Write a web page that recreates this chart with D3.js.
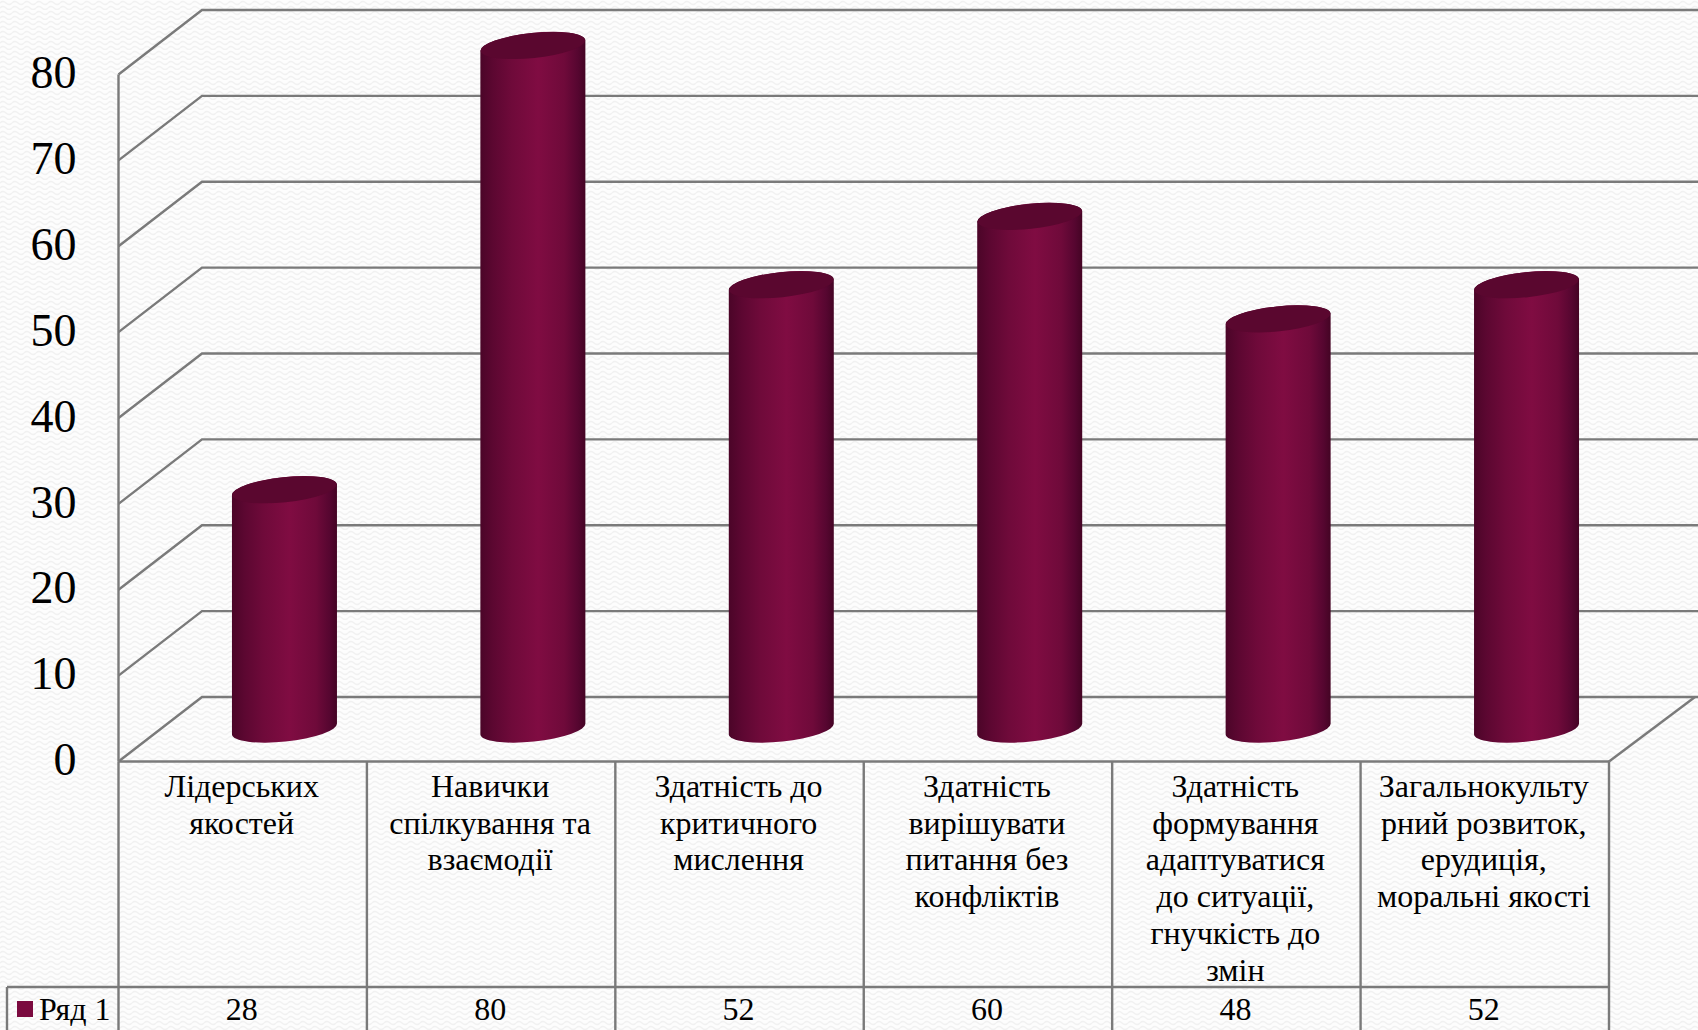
<!DOCTYPE html>
<html lang="uk">
<head>
<meta charset="utf-8">
<script src="https://d3js.org/d3.v7.min.js"></script>
<style>
  html, body { margin: 0; padding: 0; background: #fff; overflow: hidden; }
  text { font-family: "Liberation Serif", serif; fill: #000; }
</style>
</head>
<body>
<div id="graf"></div>
<script>
// Data
const categorias = [
  ["Лідерських", "якостей"],
  ["Навички", "спілкування та", "взаємодії"],
  ["Здатність до", "критичного", "мислення"],
  ["Здатність", "вирішувати", "питання без", "конфліктів"],
  ["Здатність", "формування", "адаптуватися", "до ситуації,", "гнучкість до", "змін"],
  ["Загальнокульту", "рний розвиток,", "ерудиція,", "моральні якості"]
]
const serie = "Ряд 1"
const valores = [28, 80, 52, 60, 48, 52]
const ticksY = [0, 10, 20, 30, 40, 50, 60, 70, 80]

const draw = () => {
  const anchoTotal = 1698
  const altoTotal = 1030

  // Dimensiones
  const izq = 118.5
  const der = 1609
  const base = 761.5
  const tope = 74.5
  const filaSerie = 987
  const leyendaIzq = 7
  const fondoX = 83.5 // profundidad de la pared de atrás
  const fondoY = 64.5
  const gris = "#7a7a7a"

  // Escaladores
  const x = d3.scaleBand().domain(d3.range(categorias.length)).range([izq, der])
  const y = d3.scaleLinear().domain([0, 80]).range([base, tope])
  const yBarra = d3.scaleLinear().domain([0, 80]).range([729, 45.5])

  const svg = d3
    .select("#graf")
    .append("svg")
    .attr("width", anchoTotal)
    .attr("height", altoTotal)
    .style("display", "block")

  const defs = svg.append("defs")

  // Textura del fondo
  const patron = defs
    .append("pattern")
    .attr("id", "textura")
    .attr("width", 12)
    .attr("height", 10)
    .attr("patternUnits", "userSpaceOnUse")
  patron.append("rect").attr("width", 12).attr("height", 10).attr("fill", "#fdfdfd")
  patron
    .append("path")
    .attr("d", "M0 3 Q3 0 6 3 T12 3 M0 8 Q3 5 6 8 T12 8")
    .attr("fill", "none")
    .attr("stroke", "#f1f1f1")
    .attr("stroke-width", 1.3)

  svg
    .append("rect")
    .attr("width", anchoTotal)
    .attr("height", altoTotal)
    .attr("fill", "url(#textura)")

  // Degradado del cilindro
  const degradado = defs.append("linearGradient").attr("id", "cilindro")
  const paradas = [
    [0, "#4b0528"],
    [0.12, "#5c0731"],
    [0.3, "#6f0a3a"],
    [0.55, "#800c42"],
    [0.8, "#6f0a3a"],
    [0.93, "#560630"],
    [1, "#440424"]
  ]
  paradas.forEach(([o, c]) => degradado.append("stop").attr("offset", o).attr("stop-color", c))

  // Rejilla
  const rejilla = svg
    .append("g")
    .attr("fill", "none")
    .attr("stroke", gris)
    .attr("stroke-width", 2.4)

  rejilla
    .selectAll("path.linea")
    .data(ticksY)
    .join("path")
    .attr("class", "linea")
    .attr("d", (d) => {
      const p = d3.path()
      p.moveTo(izq, y(d))
      p.lineTo(izq + fondoX, y(d) - fondoY)
      p.lineTo(anchoTotal, y(d) - fondoY)
      return p.toString()
    })

  // Piso y eje vertical
  rejilla
    .append("line")
    .attr("x1", izq)
    .attr("x2", izq)
    .attr("y1", y(80))
    .attr("y2", base)

  rejilla
    .append("path")
    .attr("d", `M${der} ${base} L${der + 86} ${base - fondoY}`)

  // Eje Y
  const yAxis = d3.axisLeft(y).tickValues(ticksY).tickSize(0).tickPadding(42)
  const yAxisGroup = svg
    .append("g")
    .attr("transform", `translate(${izq}, -1.5)`)
    .call(yAxis)
  yAxisGroup.select(".domain").remove()
  yAxisGroup
    .selectAll("text")
    .style("font-family", '"Liberation Serif", serif')
    .style("font-size", "46px")
    .attr("fill", "#000")

  // Cilindros
  const rx = 52.5
  const ry = 12.5
  const giro = -6
  const sube = rx * Math.sin((-giro * Math.PI) / 180)

  const barras = svg
    .append("g")
    .selectAll("g")
    .data(valores)
    .join("g")
    .attr("transform", (d, i) => `translate(${x(i) + x.bandwidth() / 2 + fondoX / 2}, 0)`)

  barras
    .append("path")
    .attr("fill", "url(#cilindro)")
    .attr("d", (d) => {
      const a = yBarra(d)
      const b = yBarra(0)
      return `M${-rx} ${a + sube} L${-rx} ${b + sube}
        A${rx} ${ry} ${giro} 0 0 ${rx} ${b - sube}
        L${rx} ${a - sube}
        A${rx} ${ry} ${giro} 0 0 ${-rx} ${a + sube} Z`
    })

  barras
    .append("ellipse")
    .attr("rx", rx)
    .attr("ry", ry)
    .attr("fill", "#5a072f")
    .attr("transform", (d) => `translate(0, ${yBarra(d)}) rotate(${giro})`)

  // Tabla de datos
  const tabla = svg
    .append("g")
    .attr("fill", "none")
    .attr("stroke", gris)
    .attr("stroke-width", 2.4)

  tabla.append("line").attr("x1", izq).attr("x2", der).attr("y1", base).attr("y2", base)
  tabla.append("line").attr("x1", leyendaIzq).attr("x2", der).attr("y1", filaSerie).attr("y2", filaSerie)
  tabla.append("line").attr("x1", leyendaIzq).attr("x2", leyendaIzq).attr("y1", filaSerie).attr("y2", altoTotal)

  tabla
    .selectAll("line.col")
    .data(d3.range(categorias.length + 1))
    .join("line")
    .attr("class", "col")
    .attr("x1", (d) => (d < categorias.length ? x(d) : der))
    .attr("x2", (d) => (d < categorias.length ? x(d) : der))
    .attr("y1", base)
    .attr("y2", altoTotal)

  // Nombres de categorías
  svg
    .append("g")
    .selectAll("text")
    .data(categorias)
    .join("text")
    .attr("text-anchor", "middle")
    .attr("font-size", 32)
    .attr("y", 797)
    .each(function (lineas, i) {
      d3.select(this)
        .selectAll("tspan")
        .data(lineas)
        .join("tspan")
        .attr("x", x(i) + x.bandwidth() / 2 - 1)
        .attr("dy", (d, j) => (j === 0 ? 0 : 36.7))
        .text((d) => d)
    })

  // Valores
  svg
    .append("g")
    .selectAll("text")
    .data(valores)
    .join("text")
    .attr("text-anchor", "middle")
    .attr("font-size", 32)
    .attr("x", (d, i) => x(i) + x.bandwidth() / 2 - 1)
    .attr("y", 1020)
    .text((d) => d)

  // Leyenda
  svg
    .append("rect")
    .attr("x", 17)
    .attr("y", 1001)
    .attr("width", 16)
    .attr("height", 16)
    .attr("fill", "#7b0a3f")

  svg
    .append("text")
    .attr("x", 39)
    .attr("y", 1020)
    .attr("font-size", 32)
    .text(serie)
}

draw()
</script>
</body>
</html>
